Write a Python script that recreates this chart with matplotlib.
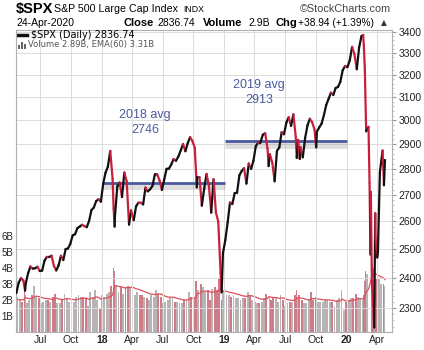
import matplotlib
matplotlib.use('Agg')
import matplotlib.pyplot as plt
import matplotlib.dates as mdates
import matplotlib.ticker as mticker
import matplotlib.transforms as mtransforms
from matplotlib.collections import LineCollection
from matplotlib.patches import Rectangle
from matplotlib.lines import Line2D
import numpy as np
import pandas as pd

plt.rcParams['font.family'] = ['Liberation Sans', 'DejaVu Sans']

# weekly closes (plus a few daily extremes)
dates = [
    '2017-04-21', '2017-04-28', '2017-05-05', '2017-05-12', '2017-05-17', '2017-05-19', '2017-05-26',
    '2017-06-02', '2017-06-09', '2017-06-16', '2017-06-23', '2017-06-30',
    '2017-07-07', '2017-07-14', '2017-07-21', '2017-07-28',
    '2017-08-04', '2017-08-11', '2017-08-18', '2017-08-25',
    '2017-09-01', '2017-09-08', '2017-09-15', '2017-09-22', '2017-09-29',
    '2017-10-06', '2017-10-13', '2017-10-20', '2017-10-27',
    '2017-11-03', '2017-11-10', '2017-11-17', '2017-11-24',
    '2017-12-01', '2017-12-08', '2017-12-15', '2017-12-22', '2017-12-29',
    '2018-01-05', '2018-01-12', '2018-01-19', '2018-01-26',
    '2018-02-02', '2018-02-05', '2018-02-08', '2018-02-09', '2018-02-16', '2018-02-23',
    '2018-03-02', '2018-03-09', '2018-03-16', '2018-03-23', '2018-03-29',
    '2018-04-06', '2018-04-13', '2018-04-20', '2018-04-27',
    '2018-05-04', '2018-05-11', '2018-05-18', '2018-05-25',
    '2018-06-01', '2018-06-08', '2018-06-15', '2018-06-22', '2018-06-29',
    '2018-07-06', '2018-07-13', '2018-07-20', '2018-07-27',
    '2018-08-03', '2018-08-10', '2018-08-17', '2018-08-24', '2018-08-31',
    '2018-09-07', '2018-09-14', '2018-09-21', '2018-09-28',
    '2018-10-05', '2018-10-11', '2018-10-12', '2018-10-19', '2018-10-26',
    '2018-11-02', '2018-11-09', '2018-11-16', '2018-11-23', '2018-11-30',
    '2018-12-07', '2018-12-14', '2018-12-21', '2018-12-24', '2018-12-28',
    '2019-01-04', '2019-01-11', '2019-01-18', '2019-01-25',
    '2019-02-01', '2019-02-08', '2019-02-15', '2019-02-22',
    '2019-03-01', '2019-03-08', '2019-03-15', '2019-03-22', '2019-03-29',
    '2019-04-05', '2019-04-12', '2019-04-18', '2019-04-26',
    '2019-05-03', '2019-05-10', '2019-05-13', '2019-05-17', '2019-05-24', '2019-05-31',
    '2019-06-07', '2019-06-14', '2019-06-21', '2019-06-28',
    '2019-07-05', '2019-07-12', '2019-07-19', '2019-07-26',
    '2019-08-02', '2019-08-05', '2019-08-09', '2019-08-14', '2019-08-16', '2019-08-23', '2019-08-30',
    '2019-09-06', '2019-09-13', '2019-09-20', '2019-09-27',
    '2019-10-02', '2019-10-04', '2019-10-11', '2019-10-18', '2019-10-25',
    '2019-11-01', '2019-11-08', '2019-11-15', '2019-11-22', '2019-11-29',
    '2019-12-06', '2019-12-13', '2019-12-20', '2019-12-27',
    '2020-01-03', '2020-01-10', '2020-01-17', '2020-01-24', '2020-01-31',
    '2020-02-07', '2020-02-14', '2020-02-19', '2020-02-21', '2020-02-24', '2020-02-28',
    '2020-03-06', '2020-03-09', '2020-03-12', '2020-03-13', '2020-03-16', '2020-03-20',
    '2020-03-23', '2020-03-26', '2020-03-27',
    '2020-04-01', '2020-04-03', '2020-04-09', '2020-04-17', '2020-04-21', '2020-04-24',
]

close = [
    2348.7, 2384.2, 2399.3, 2390.9, 2357.0, 2381.7, 2415.8,
    2439.1, 2431.8, 2433.2, 2438.3, 2423.4,
    2425.2, 2459.3, 2472.5, 2472.1,
    2476.8, 2441.3, 2425.6, 2443.1,
    2476.6, 2461.4, 2500.2, 2502.2, 2519.4,
    2549.3, 2553.2, 2575.2, 2581.1,
    2587.8, 2582.3, 2578.9, 2602.4,
    2642.2, 2651.5, 2675.8, 2683.3, 2673.6,
    2743.2, 2786.2, 2810.3, 2872.9,
    2762.1, 2648.9, 2581.0, 2619.6, 2732.2, 2747.3,
    2691.3, 2786.6, 2752.0, 2588.3, 2640.9,
    2604.5, 2656.3, 2670.1, 2669.9,
    2663.4, 2727.7, 2713.0, 2721.3,
    2734.6, 2779.0, 2779.4, 2754.9, 2718.4,
    2759.8, 2801.3, 2801.8, 2818.8,
    2840.4, 2833.3, 2850.1, 2874.7, 2901.5,
    2871.7, 2905.0, 2929.7, 2914.0,
    2885.6, 2728.4, 2767.1, 2767.8, 2658.7,
    2723.1, 2781.0, 2736.3, 2632.6, 2760.2,
    2633.1, 2600.0, 2416.6, 2351.1, 2485.7,
    2531.9, 2596.3, 2670.7, 2664.8,
    2706.5, 2707.9, 2775.6, 2792.7,
    2803.7, 2743.1, 2822.5, 2800.7, 2834.4,
    2892.7, 2907.4, 2905.0, 2939.9,
    2945.6, 2881.4, 2811.9, 2859.5, 2826.1, 2752.1,
    2873.3, 2887.0, 2950.5, 2941.8,
    2990.4, 3013.8, 2976.6, 3025.9,
    2932.1, 2844.7, 2918.7, 2840.6, 2888.7, 2847.1, 2926.5,
    2978.7, 3007.4, 2992.1, 2961.8,
    2887.6, 2952.0, 2970.3, 2986.2, 3022.6,
    3066.9, 3093.1, 3120.5, 3110.3, 3141.0,
    3145.9, 3168.8, 3221.2, 3240.0,
    3234.9, 3265.4, 3329.6, 3295.5, 3225.5,
    3327.7, 3380.2, 3386.2, 3337.8, 3225.9, 2954.2,
    2972.4, 2746.6, 2480.6, 2711.0, 2386.1, 2304.9,
    2237.4, 2630.1, 2541.5,
    2470.5, 2488.7, 2789.8, 2874.6, 2736.6, 2836.7,
]

# volume in billions
volume = [
    2.0, 2.2, 2.0, 1.9, 2.8, 2.3, 1.8,
    2.0, 2.3, 2.9, 2.2, 2.1,
    1.8, 1.9, 2.0, 2.0,
    1.9, 2.2, 2.4, 1.8,
    1.8, 2.0, 2.4, 2.1, 1.9,
    1.9, 1.9, 2.2, 2.3,
    2.2, 2.2, 2.1, 1.6,
    2.5, 2.2, 2.6, 2.0, 1.5,
    2.3, 2.2, 2.4, 2.5,
    2.9, 4.0, 3.8, 3.6, 2.9, 2.5,
    2.8, 2.4, 2.8, 2.9, 2.8,
    2.7, 2.3, 2.5, 2.3,
    2.3, 2.2, 2.1, 2.0,
    2.3, 2.2, 2.6, 2.4, 2.2,
    1.8, 1.9, 2.0, 2.2,
    2.1, 1.9, 1.9, 1.8, 1.8,
    2.0, 2.0, 2.5, 2.2,
    2.2, 3.2, 3.0, 2.6, 3.0,
    2.8, 2.5, 2.6, 2.0, 2.7,
    2.8, 2.6, 3.4, 2.0, 2.4,
    2.6, 2.3, 2.3, 2.2,
    2.3, 2.1, 2.1, 2.0,
    2.1, 2.1, 2.5, 2.3, 2.0,
    1.9, 1.8, 1.8, 1.9,
    2.1, 2.4, 2.7, 2.2, 2.0, 2.1,
    2.1, 1.9, 2.3, 2.0,
    1.6, 1.8, 1.9, 1.9,
    2.3, 2.6, 2.2, 2.3, 2.0, 2.0, 1.8,
    1.8, 2.0, 2.5, 2.0,
    2.2, 2.0, 1.9, 1.9, 1.9,
    2.0, 2.0, 1.9, 1.9, 1.6,
    2.0, 2.1, 2.6, 1.4,
    1.9, 2.0, 2.1, 2.1, 2.4,
    2.2, 2.1, 2.0, 2.3, 3.2, 3.8,
    3.6, 4.3, 4.4, 4.1, 4.3, 4.2,
    4.0, 3.9, 3.4,
    3.3, 3.2, 3.3, 3.0, 3.0, 2.9,
]

avg_2018 = 2746
avg_2019 = 2913
price_ticks = [2300, 2400, 2500, 2600, 2700, 2800, 2900, 3000, 3100, 3200, 3300, 3400]
vol_ticks = [1, 2, 3, 4, 5, 6]

W, H = 424, 350
def fx(px):
    return px / W
def fy(py):
    return 1 - py / H
def d(s):
    return mdates.date2num(pd.Timestamp(s))

fig = plt.figure(figsize=(4.24, 3.5), dpi=100)
ax = fig.add_axes([fx(16), fy(332), fx(392) - fx(16), fy(30) - fy(332)])
axv = ax.twinx()
ax.set_zorder(2)
axv.set_zorder(1)
ax.patch.set_visible(False)

x = mdates.date2num(pd.to_datetime(dates))
c = np.array(close)
v = np.array(volume)
up = np.concatenate([[True], np.diff(c) >= 0])

# volume bars
gaps = np.diff(x, prepend=x[0] - 7)
gaps = np.minimum(gaps, 7)
bar_cols = np.where(up, '#a6a0a2', '#c25c6a')
axv.bar(x - gaps * 0.9, v, width=gaps * 0.8, align='edge', color=bar_cols,
        alpha=0.8, linewidth=0)
ema = pd.Series(v).ewm(span=12, adjust=False).mean()
axv.plot(x, ema, color='#e0505c', lw=0.9)
axv.set_ylim(0, 18.9)
axv.yaxis.tick_left()
axv.set_yticks(vol_ticks)
axv.set_yticklabels([str(t) + 'B' for t in vol_ticks])
axv.tick_params(axis='y', length=0, labelsize=7, pad=2, colors='#222')
for s in axv.spines.values():
    s.set_visible(False)

# price line, black on up moves, red on down moves
pts = np.column_stack([x, c])
segs = np.stack([pts[:-1], pts[1:]], axis=1)
seg_cols = np.where(up[1:], '#111111', '#c8203c')
lc = LineCollection(segs, colors=seg_cols, linewidths=1.6, capstyle='round',
                    joinstyle='round', zorder=4)
ax.add_collection(lc)

# yearly average lines with soft shadow
shadow = mtransforms.offset_copy(ax.transData, fig=fig, y=-3.5, units='dots')
for y0, a, b in [(avg_2018, '2018-01-02', '2019-01-02'), (avg_2019, '2019-01-02', '2020-01-02')]:
    ax.hlines(y0, d(a), d(b), color='#808080', alpha=0.25, lw=5, transform=shadow, zorder=2)
    ax.hlines(y0, d(a), d(b), color='#4b5a9e', lw=2, zorder=3)
ax.text(d('2018-05-10'), 2990, '2018 avg\n' + str(avg_2018), ha='center', va='center',
        fontsize=9, color='#4b5a9e', linespacing=1.3)
ax.text(d('2019-04-15'), 3122, '2019 avg\n' + str(avg_2019), ha='center', va='center',
        fontsize=9, color='#4b5a9e', linespacing=1.3)

ax.set_yscale('log')
ax.set_ylim(2223, 3410)
ax.set_xlim(d('2017-04-20'), d('2020-05-15'))
ax.yaxis.tick_right()
ax.yaxis.set_major_locator(mticker.FixedLocator(price_ticks))
ax.yaxis.set_major_formatter(mticker.FixedFormatter([str(t) for t in price_ticks]))
ax.yaxis.set_minor_locator(mticker.FixedLocator(np.arange(2240, 3410, 20)))
ax.yaxis.set_minor_formatter(mticker.NullFormatter())
ax.tick_params(axis='y', which='major', length=3, color='#999', labelsize=7.5, pad=1.5, colors='#222')
ax.tick_params(axis='y', which='minor', length=1.5, color='#bbb')

xt = pd.date_range('2017-07-01', '2020-04-01', freq='QS-JAN')
ax.set_xticks(mdates.date2num(xt))
ax.set_xticklabels([t.strftime('%y') if t.month == 1 else t.strftime('%b') for t in xt])
for lab, t in zip(ax.get_xticklabels(), xt):
    if t.month == 1:
        lab.set_fontweight('bold')
ax.tick_params(axis='x', length=0, labelsize=7.5, pad=2.5, colors='#222')
ax.grid(True, color='#dcdcdc', lw=0.7)
for s in ax.spines.values():
    s.set_color('#b0b0b0')
    s.set_linewidth(0.8)

# header
fig.text(fx(16), fy(9), '$SPX', fontsize=10.5, fontweight='bold', va='center')
fig.text(fx(54), fy(9), 'S&P 500 Large Cap Index', fontsize=7.7, va='center')
fig.text(fx(183), fy(9.5), 'INDX', fontsize=6.3, va='center')
fig.text(fx(300), fy(9), '\u00a9StockCharts.com', fontsize=7.8, va='center', color='#444')
fig.text(fx(16), fy(23), '24-Apr-2020', fontsize=7.5, va='center')
fig.text(fx(123), fy(23), 'Close', fontsize=8, fontweight='bold', va='center')
fig.text(fx(157), fy(23), '2836.74', fontsize=7.5, va='center')
fig.text(fx(203), fy(23), 'Volume', fontsize=8, fontweight='bold', va='center')
fig.text(fx(248), fy(23), '2.9B', fontsize=7.5, va='center')
fig.text(fx(275), fy(23), 'Chg', fontsize=8, fontweight='bold', va='center')
fig.text(fx(298), fy(23), '+38.94 (+1.39%)', fontsize=7.3, va='center')
fig.text(fx(381), fy(22.5), '\u25b2', fontsize=5.5, va='center', color='#333', family='DejaVu Sans')

# legend inside plot
fig.add_artist(Line2D([fx(18), fx(27)], [fy(35), fy(35)], color='#111', lw=2.5))
fig.text(fx(31), fy(35), '$SPX (Daily) 2836.74', fontsize=7, va='center', family='DejaVu Sans')
for bx, bh in [(18, 4), (21, 7), (24, 5)]:
    fig.add_artist(Rectangle((fx(bx), fy(49)), fx(2), bh / H, color='#666', lw=0))
fig.text(fx(28), fy(45), 'Volume 2.89B, EMA(60) 3.31B', fontsize=6, va='center',
         color='#555', family='DejaVu Sans')

fig.savefig('out.png', dpi=100)
